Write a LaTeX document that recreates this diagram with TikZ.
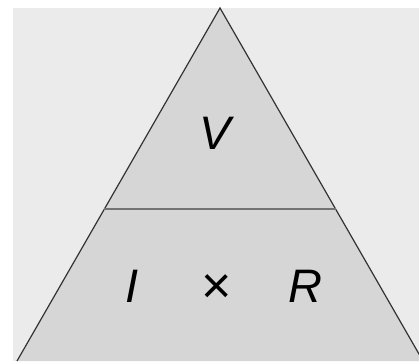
\documentclass[tikz,border=0pt]{standalone}
\usepackage{fontspec}
\setmainfont{Liberation Sans}
\usetikzlibrary{calc}
\begin{document}
\begin{tikzpicture}[x=1pt,y=-1pt,
  edge/.style={draw=black!80,line width=1.2pt},
  mid/.style={draw=black!55,line width=2pt},
  lbl/.style={anchor=base,inner sep=0pt,font=\fontsize{47}{47}\selectfont\itshape}]
\useasboundingbox (0,0) rectangle (419,361);
\fill[white] (0,0) rectangle (419,361);
\fill[black!8] (13,8) rectangle (419,361);
\coordinate (A) at (220,8);
\coordinate (BL) at (17,361);
\coordinate (BR) at (423,361);
\coordinate (ML) at ($(A)!0.5694!(BL)$);
\coordinate (MR) at ($(A)!0.5694!(BR)$);
\begin{scope}
\clip (0,0) rectangle (419,361);
\fill[black!16] (A) -- (BL) -- (BR) -- cycle;
\draw[edge] (BL) -- (A) -- (BR);
\end{scope}
\draw[mid] (ML) -- (MR);
\node[lbl] (v) at (215,149) {V};
\node[lbl] (i) at (132,302) {I};
\node[lbl,font=\fontsize{52}{52}\selectfont] (x) at (217,303) {×};
\node[lbl] (r) at (305,302) {R};
\end{tikzpicture}
\end{document}
